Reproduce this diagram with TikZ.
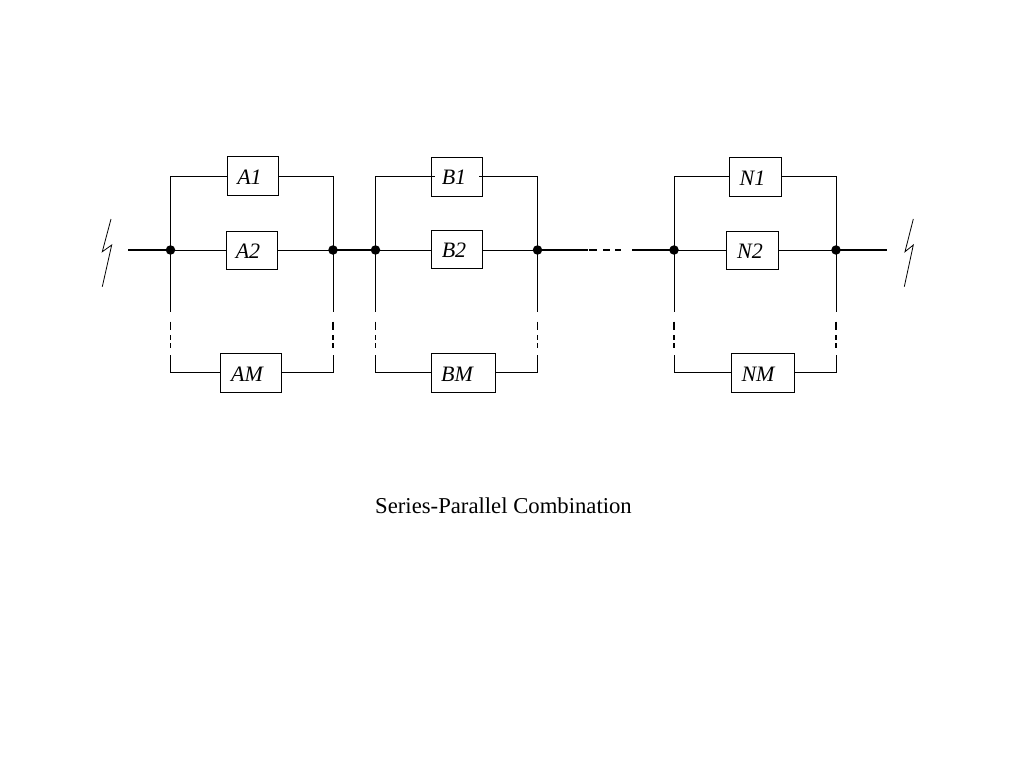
\documentclass[tikz,border=0pt]{standalone}
\usepackage{fontspec}
\setmainfont{Liberation Serif}
\tikzset{
  unitbox/.style={draw, inner sep=0pt, minimum height=38.5pt},
  unitlabel/.style={font=\fontsize{22}{24}\selectfont\itshape, inner sep=0pt},
  junction/.style={circle, fill=black, inner sep=0pt, minimum size=9.5pt},
  mainline/.style={line width=1.4pt},
  gapline/.style={line width=1.2pt, dash pattern=on 0pt off 9.7pt on 8.3pt off 5pt on 5pt off 3pt on 5pt off 7pt},
  gaprow/.style={line width=1.2pt, dash pattern=on 0pt off 1pt on 8pt off 6pt on 7pt off 5pt on 6pt off 11pt},
}
\begin{document}
\begin{tikzpicture}[x=1pt, y=-1pt, line width=1pt]
\useasboundingbox (0,0) rectangle (1024,768);

% junctions on the main line
\path (170.5,250) node[junction] (al) {};
\path (333,250)   node[junction] (ar) {};
\path (375.5,250) node[junction] (bl) {};
\path (537.5,250) node[junction] (br) {};
\path (674,250)   node[junction] (nl) {};
\path (836,250)   node[junction] (nr) {};

% free ends of the main line
\coordinate (in) at (128,250);
\coordinate (out) at (887,250);
\coordinate (gapl) at (588,250);
\coordinate (gapr) at (632,250);

% heights of the first and last branch
\coordinate (top) at (0,176);
\coordinate (bot) at (0,372);

% where the branches break
\foreach \j/\x in {al/170.5, ar/333, bl/375.5, br/537.5, nl/674, nr/836} {
  \coordinate (\j u) at (\x,312);
  \coordinate (\j d) at (\x,355);
}

% first stage
\path (252.75,175.75) node[unitbox, minimum width=51.5pt] (A1) {};
\path (251.5,250.5)   node[unitbox, minimum width=51pt] (A2) {};
\path (250.75,372.75) node[unitbox, minimum width=61.5pt] (AM) {};
\path (249.5,177) node[unitlabel] (A1t) {A1};
\path (248,251)   node[unitlabel] (A2t) {A2};
\path (247,374)   node[unitlabel] (AMt) {AM};

% second stage
\path (456.5,176.75) node[unitbox, minimum width=51pt] (B1) {};
\path (456.5,249.5)  node[unitbox, minimum width=51pt] (B2) {};
\path (463,372.75)   node[unitbox, minimum width=64pt] (BM) {};
\path (454,177) node[unitlabel] (B1t) {B1};
\path (454,250) node[unitlabel] (B2t) {B2};
\path (457,374) node[unitlabel] (BMt) {BM};
\coordinate (B1l) at ([xshift=4pt]B1.west);
\coordinate (B1r) at ([xshift=-4pt]B1.east);

% last stage
\path (755,176.75)   node[unitbox, minimum width=52pt] (N1) {};
\path (752.25,250.5) node[unitbox, minimum width=51.5pt] (N2) {};
\path (762.5,372.75) node[unitbox, minimum width=63pt] (NM) {};
\path (752.5,178) node[unitlabel] (N1t) {N1};
\path (750,251)   node[unitlabel] (N2t) {N2};
\path (758,374)   node[unitlabel] (NMt) {NM};

% main line
\draw[mainline] (in) -- (al.center);
\draw[mainline] (ar.center) -- (bl.center);
\draw[mainline] (br.center) -- (gapl);
\draw[mainline] (gapr) -- (nl.center);
\draw[mainline] (nr.center) -- (out);
\draw[gaprow] (gapl) -- (gapr);

% branches
\draw (al.center) |- (top -| A1.west);
\draw (ar.center) |- (top -| A1.east);
\draw (al.center) -- (al -| A2.west);
\draw (ar.center) -- (ar -| A2.east);
\draw (bl.center) |- (top -| B1l);
\draw (br.center) |- (top -| B1r);
\draw (bl.center) -- (bl -| B2.west);
\draw (br.center) -- (br -| B2.east);
\draw (nl.center) |- (top -| N1.west);
\draw (nr.center) |- (top -| N1.east);
\draw (nl.center) -- (nl -| N2.west);
\draw (nr.center) -- (nr -| N2.east);

\draw (al.center) -- (alu);
\draw (ar.center) -- (aru);
\draw (bl.center) -- (blu);
\draw (br.center) -- (bru);
\draw (nl.center) -- (nlu);
\draw (nr.center) -- (nru);
\draw[gapline] (alu) -- (ald);
\draw[gapline] (aru) -- (ard);
\draw[gapline] (blu) -- (bld);
\draw[gapline] (bru) -- (brd);
\draw[gapline] (nlu) -- (nld);
\draw[gapline] (nru) -- (nrd);
\draw (ald) |- (bot -| AM.west);
\draw (ard) |- (bot -| AM.east);
\draw (bld) |- (bot -| BM.west);
\draw (brd) |- (bot -| BM.east);
\draw (nld) |- (bot -| NM.west);
\draw (nrd) |- (bot -| NM.east);

% breaks at both ends
\draw[line width=.8pt] (111,219) -- (102.3,251.7) -- (111.7,245) -- (102.3,286.7);
\draw[line width=.8pt] (913.3,219) -- (905,251.7) -- (913.3,245) -- (904.3,286.7);

\path (503.5,505.5) node[font=\fontsize{22.7}{25}\selectfont, inner sep=0pt] (caption) {Series-Parallel Combination};
\end{tikzpicture}
\end{document}
